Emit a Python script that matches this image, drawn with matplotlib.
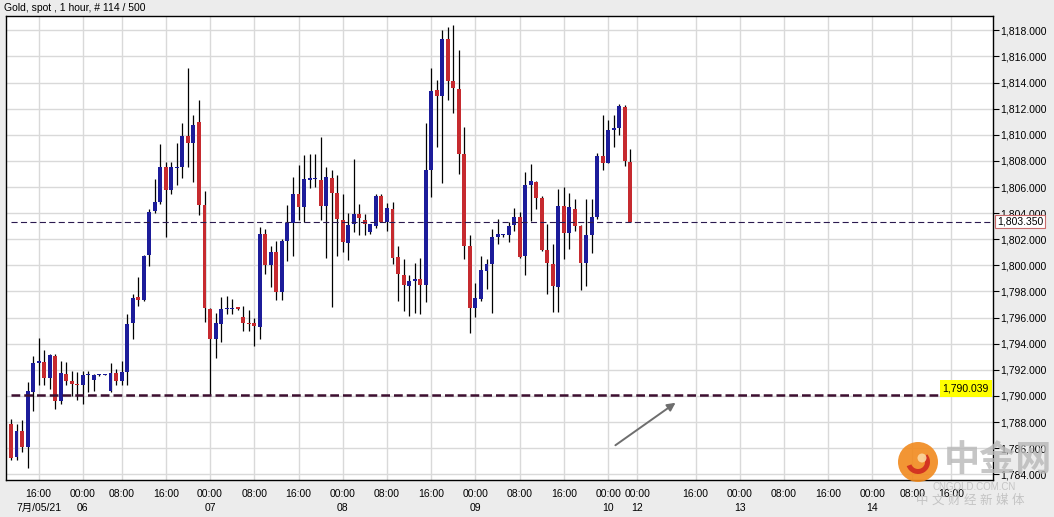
import numpy as np
import matplotlib
matplotlib.use("Agg")
import matplotlib.pyplot as plt
from matplotlib.patches import Circle, Wedge
from matplotlib.ticker import FuncFormatter

plt.rcParams['font.family'] = ['Liberation Sans', 'Noto Sans CJK SC', 'DejaVu Sans']

# hourly candles, gold spot
opens = [1787.85, 1785.36, 1787.33, 1786.08, 1790.30, 1792.50, 1792.62, 1791.38, 1793.05, 1789.59,
         1791.70, 1791.13, 1790.95, 1790.87, 1791.60, 1791.20, 1791.64, 1791.64, 1790.36, 1791.77,
         1791.13, 1791.85, 1795.55, 1797.54, 1797.36, 1800.80, 1804.13, 1804.82, 1807.50, 1805.76,
         1807.45, 1807.50, 1809.92, 1809.41, 1810.99, 1804.64, 1796.65, 1794.36, 1795.50, 1796.66,
         1796.65, 1796.80, 1796.05, 1795.52, 1795.55, 1795.25, 1802.40, 1800.05, 1801.05, 1797.99,
         1801.88, 1803.28, 1805.45, 1804.50, 1806.55, 1806.60, 1806.52, 1804.52, 1806.66, 1805.58,
         1803.51, 1801.73, 1803.15, 1803.92, 1803.46, 1802.57, 1803.00, 1805.32, 1803.33, 1804.35,
         1800.63, 1799.30, 1798.40, 1798.80, 1798.95, 1798.46, 1807.34, 1813.46, 1812.95, 1817.36,
         1814.12, 1813.54, 1808.56, 1801.47, 1796.72, 1797.46, 1799.60, 1800.14, 1802.20, 1802.36,
         1802.36, 1803.07, 1803.70, 1800.72, 1806.18, 1806.40, 1805.16, 1801.16, 1800.14, 1798.35,
         1804.53, 1802.50, 1804.35, 1803.00, 1800.21, 1802.30, 1803.70, 1808.38, 1807.87, 1810.34,
         1810.52, 1812.13, 1807.92]
highs = [1788.26, 1787.85, 1788.18, 1791.05, 1793.08, 1794.46, 1793.49, 1793.23, 1793.18, 1792.67,
         1792.60, 1791.90, 1791.85, 1791.90, 1791.90, 1791.67, 1791.70, 1791.66, 1792.54, 1792.03,
         1792.67, 1796.26, 1797.80, 1799.10, 1800.80, 1804.33, 1806.65, 1809.28, 1807.90, 1807.90,
         1809.40, 1810.94, 1815.10, 1811.52, 1812.65, 1805.70, 1796.70, 1796.35, 1797.60, 1797.62,
         1797.40, 1796.85, 1796.90, 1796.62, 1795.95, 1802.95, 1802.78, 1801.50, 1801.90, 1802.00,
         1804.64, 1806.78, 1807.72, 1808.48, 1808.50, 1808.50, 1809.85, 1807.50, 1807.30, 1806.90,
         1805.45, 1804.00, 1808.18, 1804.68, 1803.92, 1803.20, 1805.50, 1805.50, 1804.80, 1804.86,
         1801.50, 1800.50, 1799.23, 1800.17, 1800.58, 1810.91, 1815.14, 1814.22, 1818.00, 1818.26,
         1818.38, 1816.47, 1810.60, 1802.30, 1798.68, 1800.70, 1800.52, 1802.82, 1803.58, 1802.40,
         1803.33, 1804.40, 1804.10, 1807.15, 1807.80, 1806.50, 1805.30, 1803.20, 1801.67, 1805.88,
         1806.00, 1805.57, 1805.10, 1803.10, 1805.10, 1805.06, 1808.63, 1811.50, 1811.10, 1811.49,
         1812.36, 1812.26, 1808.90]
lows = [1785.10, 1785.10, 1785.69, 1784.51, 1788.82, 1790.87, 1790.80, 1790.56, 1789.03, 1789.38,
        1790.80, 1790.00, 1789.72, 1789.38, 1790.30, 1790.36, 1791.50, 1791.60, 1790.30, 1790.87,
        1790.82, 1790.87, 1794.33, 1796.90, 1797.30, 1799.97, 1804.00, 1804.70, 1802.20, 1805.50,
        1806.17, 1806.73, 1807.55, 1806.42, 1803.85, 1795.63, 1790.10, 1792.90, 1794.15, 1796.27,
        1796.30, 1796.60, 1795.00, 1795.00, 1793.85, 1794.38, 1799.33, 1798.38, 1797.32, 1797.35,
        1800.35, 1800.74, 1803.50, 1803.33, 1805.95, 1806.00, 1803.48, 1800.55, 1796.78, 1800.70,
        1801.04, 1800.45, 1802.57, 1802.31, 1802.31, 1802.40, 1802.90, 1803.33, 1802.64, 1800.07,
        1797.29, 1796.52, 1796.10, 1796.37, 1796.27, 1797.20, 1805.20, 1809.07, 1806.34, 1812.64,
        1811.67, 1807.03, 1800.50, 1794.79, 1796.06, 1797.30, 1798.22, 1796.39, 1801.67, 1802.20,
        1801.80, 1802.60, 1800.60, 1799.25, 1803.40, 1804.35, 1801.08, 1797.84, 1796.44, 1796.44,
        1800.47, 1801.28, 1802.60, 1798.10, 1798.43, 1800.97, 1803.53, 1807.28, 1807.87, 1809.07,
        1810.00, 1807.60, 1803.30]
closes = [1785.28, 1787.33, 1786.08, 1790.36, 1792.49, 1792.67, 1791.38, 1793.13, 1789.59, 1791.77,
          1791.13, 1790.90, 1790.87, 1791.64, 1791.65, 1791.60, 1791.64, 1791.64, 1791.77, 1791.18,
          1791.82, 1795.49, 1797.49, 1797.38, 1800.72, 1804.08, 1804.87, 1807.50, 1805.76, 1807.50,
          1807.50, 1809.92, 1809.41, 1810.73, 1804.64, 1796.73, 1794.33, 1795.55, 1796.68, 1796.66,
          1796.65, 1796.65, 1795.55, 1795.50, 1795.33, 1802.42, 1800.05, 1801.05, 1797.99, 1801.88,
          1803.28, 1805.47, 1804.50, 1806.60, 1806.70, 1806.60, 1804.52, 1806.74, 1805.58, 1803.54,
          1801.80, 1803.08, 1803.92, 1803.60, 1803.15, 1803.15, 1805.32, 1803.33, 1804.37, 1800.60,
          1799.33, 1798.48, 1798.80, 1798.97, 1798.46, 1807.34, 1813.36, 1812.95, 1817.36, 1814.12,
          1813.60, 1808.56, 1801.47, 1796.72, 1797.52, 1799.63, 1800.14, 1802.18, 1802.38, 1802.36,
          1803.00, 1803.70, 1800.65, 1806.18, 1806.44, 1805.16, 1801.16, 1800.21, 1798.43, 1804.53,
          1802.50, 1804.47, 1803.02, 1800.21, 1802.30, 1803.70, 1808.38, 1807.87, 1810.34, 1810.52,
          1812.20, 1807.97, 1803.35]

time_ticks = [5, 13, 20, 28, 36, 44, 52, 60, 68, 76, 84, 92, 100, 108, 113.3,
              123.8, 131.8, 139.8, 147.8, 155.8, 163, 170]
time_labels = ['16:00', '00:00', '08:00', '16:00', '00:00', '08:00', '16:00', '00:00', '08:00',
               '16:00', '00:00', '08:00', '16:00', '00:00', '00:00', '16:00', '00:00', '08:00',
               '16:00', '00:00', '08:00', '16:00']
date_ticks = [5, 13, 36, 60, 84, 108, 113.3, 131.8, 155.8]
date_labels = ['7月/05/21', '06', '07', '08', '09', '10', '12', '13', '14']

last_price = 1803.35
support_price = 1790.039
arrow_tail = (108.9, 1786.1)
arrow_head = (120.6, 1789.6)

blue = '#1c1c9a'
red = '#c62a2f'

fig = plt.figure(figsize=(10.54, 5.17), dpi=100, facecolor='#ececec')
ax = fig.add_axes([6 / 1054, 1 - 479.5 / 517, 987 / 1054, 463.5 / 517])
ax.set_facecolor('white')

o = np.array(opens)
h = np.array(highs)
l = np.array(lows)
c = np.array(closes)
x = np.arange(len(o))
up = c >= o
bottom = np.minimum(o, c)
height = np.maximum(np.abs(c - o), 0.07)

ax.vlines(x, l, h, color='black', lw=0.9, zorder=3)
ax.bar(x[up], height[up], bottom=bottom[up], width=0.72, color=blue, zorder=4)
ax.bar(x[~up], height[~up], bottom=bottom[~up], width=0.72, color=red, zorder=4)

xmax = 177.6
ax.set_xlim(-0.9, xmax)
ax.set_ylim(1783.6, 1819.1)

ax.hlines(last_price, 0, xmax, colors='#2b1a4f', lw=0.8, linestyles=(0, (5.5, 3)), zorder=5)
ax.hlines(support_price, 0, xmax, colors='#3d0f30', lw=1.8, linestyles=(0, (3.5, 1.6)), zorder=5)

ax.set_yticks(np.arange(1784, 1819, 2))
ax.yaxis.set_major_formatter(FuncFormatter(lambda v, p: f"{v:,.3f}"))
ax.yaxis.tick_right()
ax.tick_params(axis='y', length=4, width=0.8, pad=1, labelsize=7.5, colors='black')
ax.set_xticks(time_ticks)
ax.set_xticklabels(time_labels)
ax.tick_params(axis='x', length=0, pad=7, labelsize=7.5)
ax.grid(True, color='#d9d9d9', lw=1, zorder=0)
ax.set_axisbelow(True)
for s in ax.spines.values():
    s.set_color('black')
    s.set_linewidth(1)

for pos, lab in zip(date_ticks, date_labels):
    ax.text(pos, -0.062, lab, transform=ax.get_xaxis_transform(), ha='center', va='center',
            fontsize=7.5, clip_on=False)

# price boxes on the right
ax.text(1.004, last_price, '1,803.350', transform=ax.get_yaxis_transform(), ha='left', va='center',
        fontsize=7.5, zorder=10, clip_on=False,
        bbox=dict(boxstyle='square,pad=0.15', fc='white', ec='#c86b6b', lw=0.8))
ax.text(0.996, support_price + 0.15, '1,790.039', transform=ax.get_yaxis_transform(), ha='right',
        va='bottom', fontsize=7.5, zorder=10,
        bbox=dict(boxstyle='square,pad=0.3', fc='#ffff00', ec='none'))

ax.annotate('', xy=arrow_head, xytext=arrow_tail,
            arrowprops=dict(arrowstyle='-|>', color='#6e6e6e', lw=1.4, mutation_scale=12))

fig.text(4 / 1054, 1 - 8 / 517, 'Gold, spot , 1 hour, # 114 / 500', fontsize=7.5, ha='left', va='center')

# watermark (positions in inches, 100 px per inch)
logo_c = (9.18, (517 - 462) / 100)
fig.patches.append(Circle(logo_c, 0.2, transform=fig.dpi_scale_trans,
                          fc='#f18a1e', ec='none', alpha=0.9, zorder=20))
fig.patches.append(Wedge(logo_c, 0.12, 200, 40, width=0.05, transform=fig.dpi_scale_trans,
                         fc='#d02a20', ec='none', alpha=0.9, zorder=21))
fig.patches.append(Circle((9.22, logo_c[1] + 0.04), 0.045, transform=fig.dpi_scale_trans,
                          fc='#fbd7a0', ec='none', alpha=0.9, zorder=21))
fig.text(998 / 1054, 1 - 461 / 517, '中金网', fontsize=26, fontweight='bold', color='#b8b8b8',
         alpha=0.8, ha='center', va='center', zorder=22)
fig.text(974 / 1054, 1 - 487 / 517, 'CNGOLD.COM.CN', fontsize=7, color='#c4c4c4',
         ha='center', va='center', zorder=22)
fig.text(970 / 1054, 1 - 501 / 517, '中 文 财 经 新 媒 体', fontsize=9, color='#c4c4c4',
         ha='center', va='center', zorder=22)

fig.savefig('out.png', dpi=100, facecolor=fig.get_facecolor())
